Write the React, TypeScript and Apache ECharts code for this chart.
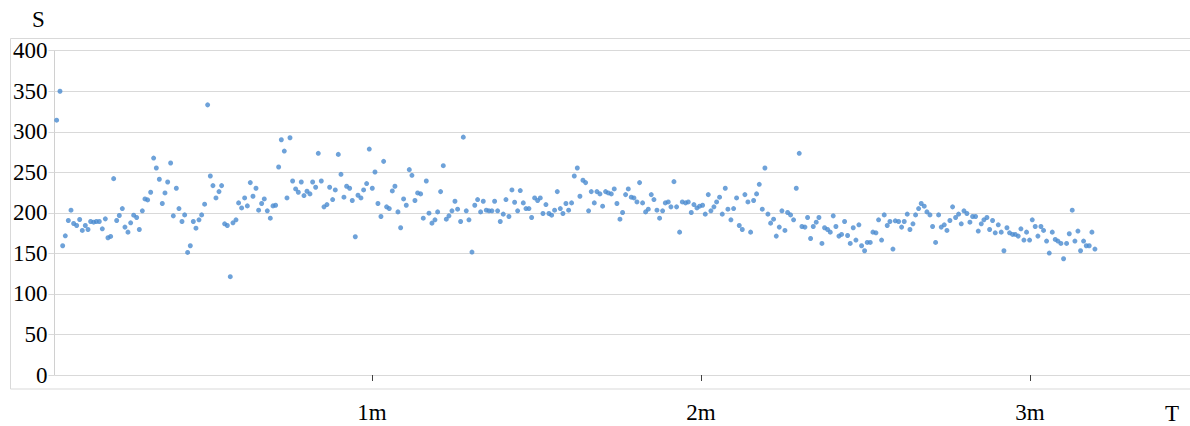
import React, { useEffect, useRef } from "react";
import * as echarts from "echarts";

// Time in seconds (axis labelled in minutes)
const T_SECONDS: number[] = [
  2.49, 3.10, 3.59, 4.07, 4.62, 5.11, 5.59, 6.14, 6.69, 7.17,
  7.72, 8.21, 8.69, 9.24, 9.73, 10.27, 10.82, 11.37, 11.85, 12.34,
  12.89, 13.44, 13.92, 14.47, 14.95, 15.50, 15.99, 16.54, 17.08, 17.57,
  18.12, 18.60, 19.09, 19.64, 20.18, 20.67, 21.22, 21.76, 22.25, 22.74,
  23.28, 23.77, 24.32, 24.80, 25.35, 25.84, 26.38, 26.87, 27.42, 27.90,
  28.45, 28.94, 29.48, 30.03, 30.52, 31.00, 31.55, 32.10, 32.58, 33.13,
  33.62, 34.16, 34.65, 35.20, 35.68, 36.23, 36.78, 37.27, 37.81, 38.30,
  38.85, 39.33, 39.88, 40.36,
  40.91, 41.46, 41.95, 42.43, 42.98, 43.47, 44.01, 44.50, 45.05, 45.53,
  46.08, 46.57, 47.11, 47.60, 48.15, 48.69, 49.18, 49.73, 50.21, 50.76,
  51.25, 51.79, 52.28, 52.83, 53.31, 53.86, 54.35, 54.89, 55.38, 55.93,
  56.41, 56.96, 57.45, 57.99, 58.48, 59.03, 59.51, 60.06, 60.55, 61.09,
  61.64, 62.13, 62.67, 63.16, 63.71, 64.19, 64.74, 65.23, 65.77, 66.26,
  66.81, 67.29, 67.84, 68.33, 68.88, 69.36, 69.91, 70.40, 70.94, 71.49,
  71.98, 72.52, 73.01, 73.56, 74.04, 74.59, 75.14, 75.62, 76.17, 76.66,
  77.20, 77.69, 78.24, 78.75,
  79.27, 79.82, 80.30, 80.85, 81.34, 81.88, 82.37, 82.92, 83.40, 83.95,
  84.44, 84.98, 85.53, 86.02, 86.57, 87.05, 87.60, 88.09, 88.63, 89.12,
  89.67, 90.21, 90.70, 91.19, 91.73, 92.28, 92.77, 93.31, 93.80, 94.35,
  94.83, 95.38, 95.87, 96.41, 96.90, 97.45, 97.93, 98.48, 98.97, 99.51,
  100.00, 100.55, 101.03, 101.58, 102.07, 102.61, 103.10, 103.65, 104.19, 104.68,
  105.23, 105.71, 106.26, 106.75, 107.29, 107.78, 108.33, 108.81, 109.36, 109.91,
  110.40, 110.94, 111.43, 111.98, 112.46, 113.01, 113.50, 114.04, 114.53, 115.08,
  115.56, 116.11, 116.60,
  117.20, 117.69, 118.24, 118.72, 119.27, 119.76, 120.30, 120.79, 121.34, 121.82,
  122.37, 122.86, 123.40, 123.89, 124.44, 124.92, 125.47, 125.96, 126.50, 126.99,
  127.54, 128.02, 128.57, 129.06, 129.61, 130.15, 130.64, 131.19, 131.67, 132.22,
  132.71, 133.25, 133.74, 134.29, 134.77, 135.32, 135.81, 136.35, 136.90, 137.39,
  137.93, 138.42, 138.97, 139.45, 140.00, 140.49, 141.03, 141.52, 142.07, 142.55,
  143.10, 143.59, 144.13, 144.62, 145.17, 145.65, 146.20, 146.75, 147.23, 147.78,
  148.27, 148.81, 149.30, 149.85, 150.33, 150.88, 151.37, 151.92, 152.40, 152.95,
  153.43, 153.98, 154.47, 155.02, 155.45,
  156.05, 156.60, 157.08, 157.63, 158.12, 158.67, 159.15, 159.70, 160.18, 160.73,
  161.22, 161.77, 162.25, 162.80, 163.35, 163.83, 164.38, 164.87, 165.41, 165.90,
  166.45, 166.99, 167.48, 167.97, 168.51, 169.06, 169.55, 170.09, 170.58, 171.13,
  171.61, 172.16, 172.65, 173.19, 173.68, 174.23, 174.77, 175.26, 175.81, 176.29,
  176.84, 177.33, 177.87, 178.36, 178.91, 179.39, 179.94, 180.43, 180.97, 181.46,
  182.01, 182.49, 183.04, 183.53, 184.08, 184.62, 185.11, 185.66, 186.14, 186.69,
  187.18, 187.72, 188.21, 188.76, 189.24, 189.79, 190.28, 190.82, 191.31, 191.86,
];

const S_VALUES: number[] = [
  314.3, 350.0, 159.4, 171.7, 190.6, 203.3, 186.9, 184.4, 191.8, 178.3,
  184.4, 179.5, 189.3, 188.5, 189.3, 189.3, 180.3, 192.6, 169.3, 170.9,
  242.2, 190.6, 196.7, 205.3, 182.4, 176.2, 187.7, 197.1, 194.3, 179.5,
  202.5, 217.2, 216.0, 225.4, 267.6, 255.3, 241.4, 211.5, 224.6, 238.1,
  261.5, 196.3, 230.3, 205.3, 189.3, 197.5, 151.2, 159.4, 189.3, 181.1,
  191.4, 197.5, 210.7, 333.2, 245.5, 233.6, 218.4, 226.2, 233.6, 186.5,
  184.4, 121.3, 187.7, 191.4, 212.3, 206.1, 218.4, 208.6, 237.3, 220.5,
  230.3, 203.3, 211.5, 217.2,
  202.5, 193.4, 208.6, 209.4, 256.6, 290.2, 276.2, 218.4, 292.6, 239.3,
  229.5, 225.4, 238.1, 221.3, 226.6, 223.4, 238.1, 231.6, 273.4, 239.3,
  207.4, 210.2, 231.6, 216.4, 228.3, 272.1, 247.5, 219.3, 232.8, 230.3,
  215.2, 170.5, 221.7, 218.4, 228.3, 236.1, 278.7, 230.3, 250.4, 211.5,
  195.5, 263.5, 207.4, 205.3, 227.0, 232.8, 201.2, 181.6, 217.2, 209.4,
  253.3, 246.3, 215.2, 224.6, 223.4, 193.4, 239.3, 199.6, 187.3, 191.4,
  201.2, 226.2, 258.2, 192.2, 196.3, 202.5, 214.3, 204.5, 189.3, 293.4,
  202.5, 191.4, 151.6, 209.4,
  216.4, 201.2, 214.3, 203.3, 202.5, 202.5, 214.3, 202.5, 189.3, 198.4,
  216.4, 195.5, 228.3, 213.1, 202.5, 227.5, 212.3, 205.3, 205.3, 194.3,
  218.4, 215.2, 218.4, 199.2, 210.2, 199.2, 197.1, 203.3, 226.2, 205.3,
  199.2, 211.5, 203.3, 212.3, 245.5, 255.3, 220.5, 240.2, 237.3, 202.5,
  226.2, 212.3, 226.2, 223.4, 208.2, 226.2, 224.6, 223.4, 229.5, 211.5,
  192.2, 200.4, 222.5, 229.5, 219.3, 218.4, 213.5, 237.3, 212.3, 201.2,
  204.5, 222.5, 216.4, 203.3, 193.4, 202.5, 212.3, 213.5, 207.4, 238.5,
  207.4, 176.2, 213.5,
  212.3, 213.5, 200.4, 210.2, 206.1, 208.2, 209.4, 198.4, 222.5, 202.5,
  207.4, 213.5, 219.3, 198.4, 230.3, 204.5, 191.4, 205.3, 218.4, 184.4,
  179.5, 222.5, 213.5, 176.2, 215.2, 223.4, 235.2, 204.5, 255.3, 198.4,
  187.3, 192.2, 171.3, 182.4, 202.5, 178.3, 200.4, 197.5, 191.4, 230.3,
  273.4, 183.2, 182.4, 194.3, 168.4, 183.2, 188.5, 194.3, 162.3, 181.6,
  179.5, 176.2, 196.3, 183.2, 171.3, 173.4, 189.3, 172.1, 162.3, 181.6,
  166.4, 185.2, 159.4, 153.3, 163.5, 163.5, 176.2, 175.4, 191.4, 166.4,
  197.5, 184.4, 189.3, 155.3, 190.2,
  189.3, 182.4, 189.3, 198.4, 179.5, 186.5, 197.5, 205.3, 211.5, 208.2,
  201.2, 197.5, 183.2, 163.5, 197.5, 182.4, 185.2, 178.3, 190.6, 207.4,
  194.3, 198.4, 186.5, 202.5, 199.2, 188.5, 195.5, 195.5, 177.5, 186.5,
  191.4, 194.3, 179.5, 190.6, 175.4, 185.2, 176.2, 153.3, 181.6, 175.4,
  173.4, 173.4, 171.3, 180.3, 166.4, 176.2, 166.4, 191.4, 183.2, 171.3,
  183.2, 178.3, 165.2, 150.4, 176.2, 167.2, 165.2, 162.3, 143.4, 162.3,
  174.2, 203.3, 165.2, 177.5, 153.3, 165.2, 159.4, 159.4, 176.2, 155.3,
];

const X_TICKS: number[] = [60, 120, 180];
const X_TICK_LABELS: string[] = ["1m", "2m", "3m"];
const Y_NAME = "S";
const X_NAME = "T";

const FONT = "Liberation Serif";

export default function App() {
  const ref = useRef<HTMLDivElement>(null);

  useEffect(() => {
    document.body.style.margin = "0";
    if (!ref.current) return;
    const chart = echarts.init(ref.current, undefined, { renderer: "svg" });
    const data = T_SECONDS.map((t, i) => [t, S_VALUES[i]]);
    chart.setOption({
      animation: false,
      backgroundColor: "#ffffff",
      grid: { left: 54.5, right: 0, top: 50.7, bottom: 51, containLabel: false },
      xAxis: {
        type: "value",
        min: 2.1,
        max: 209.2,
        offset: 14,
        axisLine: { show: false },
        splitLine: { show: false },
        axisTick: {
          show: true,
          customValues: X_TICKS,
          length: 6,
          lineStyle: { color: "#404040", width: 1 },
        },
        axisLabel: {
          customValues: X_TICKS,
          margin: 12,
          fontFamily: FONT,
          fontSize: 23,
          color: "#000",
          formatter: (v: number) => {
            const i = X_TICKS.indexOf(v);
            return i >= 0 ? X_TICK_LABELS[i] : "";
          },
        },
      },
      yAxis: {
        type: "value",
        min: 0,
        max: 400,
        interval: 50,
        axisLine: { show: true, lineStyle: { color: "#d0d0d0", width: 1 } },
        axisTick: { show: true, length: 6, lineStyle: { color: "#d9d9d9" } },
        splitLine: { show: true, lineStyle: { color: "#d9d9d9", width: 1 } },
        axisLabel: {
          margin: 7,
          fontFamily: FONT,
          fontSize: 23,
          color: "#000",
        },
      },
      graphic: [
        {
          type: "rect",
          z: -10,
          silent: true,
          shape: { x: 10.5, y: 38.5, width: 1200, height: 350.5 },
          style: { fill: "none", stroke: "#d9d9d9", lineWidth: 1 },
        },
        {
          type: "text",
          left: 32,
          top: 8,
          style: { text: Y_NAME, fontFamily: FONT, fontSize: 23, fill: "#000" },
        },
        {
          type: "text",
          left: 1165,
          top: 402,
          style: { text: X_NAME, fontFamily: FONT, fontSize: 23, fill: "#000" },
        },
      ],
      series: [
        {
          type: "scatter",
          data,
          symbol: "circle",
          symbolSize: 5,
          itemStyle: { color: "#4a8bd0" },
        },
      ],
    });
    return () => chart.dispose();
  }, []);

  return <div ref={ref} style={{ width: 1190, height: 426 }} />;
}
